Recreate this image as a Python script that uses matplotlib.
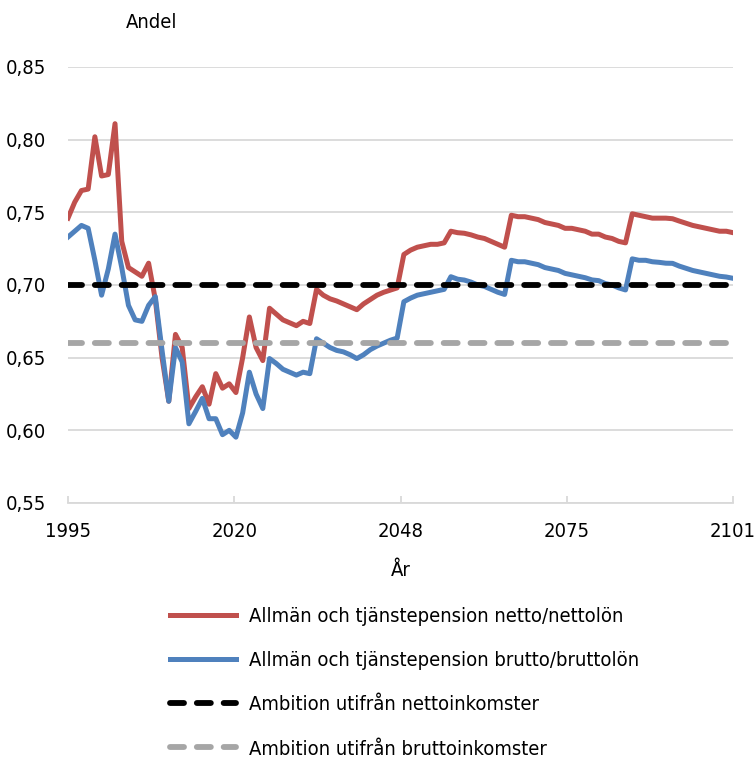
import numpy as np
import matplotlib
matplotlib.use("Agg")
import matplotlib.pyplot as plt
from matplotlib import font_manager as fm

# pick a condensed sans font if one is installed
cond = None
for f in fm.fontManager.ttflist:
    if f.style != 'normal' or f.weight not in (400, 'normal', 'regular'):
        continue
    if 'Narrow' in f.name or 'Condensed' in f.name or f.stretch in ('condensed', 'semi-condensed'):
        cond = f
        break
if cond is not None:
    plt.rcParams['font.family'] = [cond.name, 'DejaVu Sans']
    plt.rcParams['font.stretch'] = cond.stretch
    FS = 14.5
else:
    plt.rcParams['font.family'] = ['Liberation Sans', 'DejaVu Sans']
    FS = 12.5

# ---- data ----
tick_labels = ['1995', '2020', '2048', '2075', '2101']

netto = [0.746, 0.757, 0.765, 0.766, 0.802, 0.775, 0.776, 0.811, 0.730, 0.712,
         0.709, 0.706, 0.715, 0.690, 0.650, 0.620, 0.666, 0.657, 0.615, 0.623,
         0.630, 0.618, 0.639, 0.629, 0.632, 0.626, 0.650, 0.678, 0.657, 0.648,
         0.684, 0.680, 0.676, 0.674, 0.672, 0.675, 0.6735, 0.697, 0.693, 0.6905,
         0.689, 0.687, 0.685, 0.683, 0.687, 0.690, 0.693, 0.695, 0.6965, 0.698,
         0.721, 0.724, 0.726, 0.727, 0.728, 0.728, 0.729, 0.737, 0.736, 0.7356,
         0.7345, 0.733, 0.732, 0.730, 0.728, 0.726, 0.748, 0.747, 0.747, 0.746,
         0.745, 0.743, 0.742, 0.741, 0.739, 0.739, 0.738, 0.737, 0.735, 0.735,
         0.733, 0.732, 0.730, 0.729, 0.749, 0.748, 0.747, 0.746, 0.746, 0.746,
         0.7456, 0.744, 0.7425, 0.741, 0.740, 0.739, 0.738, 0.737, 0.737, 0.736]

brutto = [0.733, 0.737, 0.741, 0.739, 0.717, 0.693, 0.711, 0.735, 0.712, 0.686,
          0.676, 0.675, 0.686, 0.692, 0.655, 0.620, 0.657, 0.647, 0.6045, 0.613,
          0.622, 0.608, 0.608, 0.597, 0.600, 0.5953, 0.612, 0.640, 0.625, 0.615,
          0.6494, 0.646, 0.642, 0.640, 0.638, 0.640, 0.639, 0.663, 0.660, 0.657,
          0.655, 0.654, 0.652, 0.6494, 0.652, 0.6555, 0.658, 0.660, 0.662, 0.6635,
          0.6885, 0.691, 0.693, 0.694, 0.695, 0.696, 0.697, 0.7057, 0.704, 0.7034,
          0.702, 0.700, 0.699, 0.697, 0.695, 0.6935, 0.717, 0.716, 0.716, 0.715,
          0.714, 0.712, 0.711, 0.710, 0.708, 0.707, 0.706, 0.705, 0.7035, 0.703,
          0.701, 0.700, 0.698, 0.6966, 0.718, 0.717, 0.717, 0.716, 0.7156, 0.715,
          0.7149, 0.713, 0.7115, 0.710, 0.709, 0.708, 0.707, 0.706, 0.7055, 0.7046]

ambition_netto = 0.70
ambition_brutto = 0.66

labels = ['Allmän och tjänstepension netto/nettolön',
          'Allmän och tjänstepension brutto/bruttolön',
          'Ambition utifrån nettoinkomster',
          'Ambition utifrån bruttoinkomster']

# ---- plot ----
fig = plt.figure(figsize=(7.56, 7.57), dpi=100)
ax = fig.add_axes([68/756, 1-503/757, (733-68)/756, (503-67)/757])

x = np.arange(len(netto))
ax.plot(x, netto, color='#C0504D', lw=3.6, solid_joinstyle='round', label=labels[0])
ax.plot(x, brutto, color='#4F81BD', lw=3.6, solid_joinstyle='round', label=labels[1])
ax.plot(x, [ambition_netto]*len(x), color='black', lw=4.2, dashes=(2.4, 2.2),
        dash_capstyle='round', label=labels[2])
ax.plot(x, [ambition_brutto]*len(x), color='#A6A6A6', lw=4.2, dashes=(2.4, 2.2),
        dash_capstyle='round', label=labels[3])

ax.set_xlim(0, len(x)-1)
ax.set_ylim(0.55, 0.85)
yt = np.arange(0.55, 0.851, 0.05)
ax.set_yticks(yt)
ax.set_yticklabels([f'{v:.2f}'.replace('.', ',') for v in yt])
ax.set_xticks(np.linspace(0, len(x)-1, len(tick_labels)))
ax.set_xticklabels(tick_labels)

ax.grid(axis='y', color='#D9D9D9', lw=1.3)
ax.set_axisbelow(True)
for s in ['top', 'right', 'left']:
    ax.spines[s].set_visible(False)
ax.spines['bottom'].set_color('#D9D9D9')
ax.spines['bottom'].set_linewidth(1.3)
ax.tick_params(axis='y', length=0, pad=16, labelsize=FS)
ax.tick_params(axis='x', direction='in', length=5, color='#D9D9D9', width=1.3,
               pad=14, labelsize=FS)

ax.set_xlabel('År', fontsize=FS, labelpad=14)
fig.text(152/756, 1-22/757, 'Andel', ha='center', va='center', fontsize=FS)

fig.legend(loc='upper left', bbox_to_anchor=(170/756, 1-607/757), frameon=False,
           fontsize=FS, handlelength=3.3, handletextpad=0.6, labelspacing=1.25,
           borderpad=0, borderaxespad=0)

fig.savefig('out.png', dpi=100)
